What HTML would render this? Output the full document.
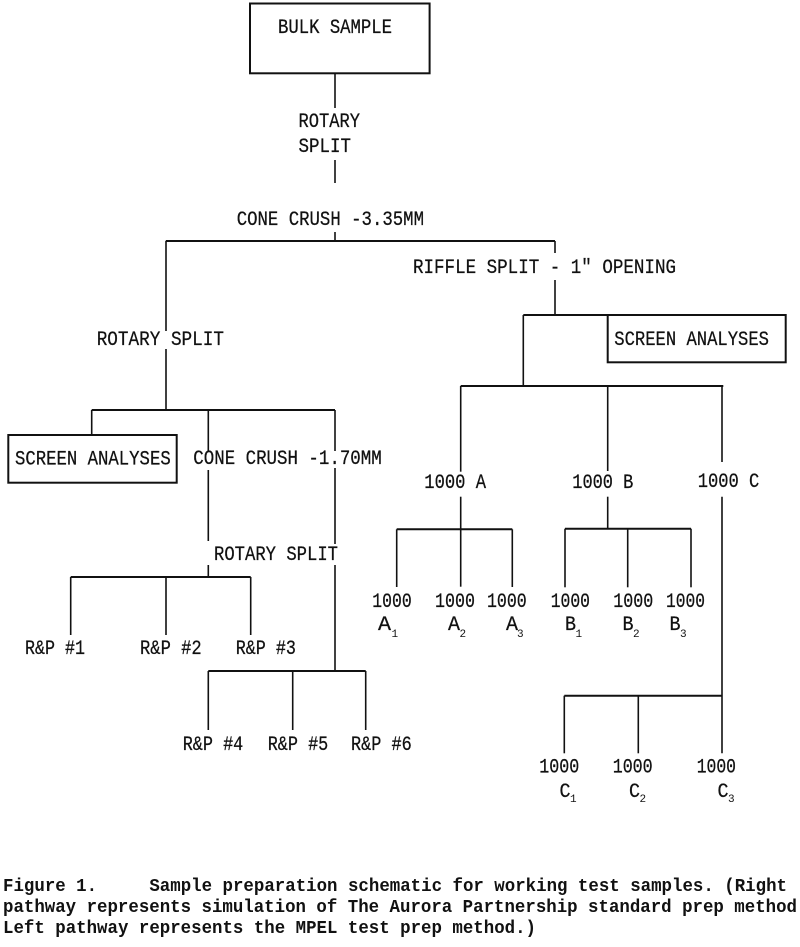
<!DOCTYPE html>
<html><head><meta charset="utf-8"><style>
html,body{margin:0;padding:0;background:#fff;}
svg{display:block;}
text{font-family:"Liberation Mono","DejaVu Sans Mono",monospace;fill:#111;}
.t{font-size:20px;stroke:#111;stroke-width:0.25;}
.s{font-size:11px;}
.c{font-size:18px;font-weight:bold;}
line,rect{stroke:#111;stroke-width:1.6;fill:none;}
.h{stroke-width:2;}
</style></head><body>
<svg width="800" height="947" viewBox="0 0 800 947" xmlns="http://www.w3.org/2000/svg">
<!-- boxes -->
<rect x="250" y="3.5" width="179.6" height="69.8" class="h"/>
<rect x="607.7" y="315" width="178" height="47.3" class="h"/>
<rect x="8.3" y="435" width="168.4" height="47.7" class="h"/>

<!-- top trunk -->
<line x1="335" y1="73" x2="335" y2="108"/>
<line x1="335" y1="160" x2="335" y2="183"/>
<line x1="335" y1="232" x2="335" y2="241"/>
<line class="h" x1="165.8" y1="241" x2="555" y2="241"/>

<!-- right branch -->
<line x1="555" y1="241" x2="555" y2="253"/>
<line x1="555" y1="280" x2="555" y2="315"/>
<line class="h" x1="523.3" y1="315" x2="785.7" y2="315"/>
<line x1="523.3" y1="315" x2="523.3" y2="386"/>
<line class="h" x1="460.7" y1="386" x2="723.3" y2="386"/>
<line x1="460.7" y1="386" x2="460.7" y2="471.7"/>
<line x1="607.7" y1="386" x2="607.7" y2="471"/>
<line x1="722" y1="386" x2="722" y2="462"/>
<line x1="460.7" y1="496.7" x2="460.7" y2="586.7"/>
<line x1="607.7" y1="496.7" x2="607.7" y2="529"/>
<line x1="722" y1="496.7" x2="722" y2="753.3"/>
<line class="h" x1="396.7" y1="529.3" x2="512.3" y2="529.3"/>
<line x1="396.7" y1="529.3" x2="396.7" y2="587"/>
<line x1="512.3" y1="529.3" x2="512.3" y2="587"/>
<line class="h" x1="565" y1="528.7" x2="691" y2="528.7"/>
<line x1="565" y1="528.7" x2="565" y2="587.3"/>
<line x1="627.7" y1="528.7" x2="627.7" y2="587.3"/>
<line x1="691" y1="528.7" x2="691" y2="587.3"/>
<line class="h" x1="564.3" y1="695.7" x2="722" y2="695.7"/>
<line x1="564.3" y1="695.7" x2="564.3" y2="753.3"/>
<line x1="638.3" y1="695.7" x2="638.3" y2="753.3"/>

<!-- left branch -->
<line x1="166" y1="241" x2="166" y2="331"/>
<line x1="166" y1="349" x2="166" y2="410"/>
<line class="h" x1="91.7" y1="410" x2="335" y2="410"/>
<line x1="91.7" y1="410" x2="91.7" y2="435"/>
<line x1="208.3" y1="410" x2="208.3" y2="452"/>
<line x1="208.3" y1="470" x2="208.3" y2="541"/>
<line x1="208.3" y1="565" x2="208.3" y2="577"/>
<line x1="335" y1="410" x2="335" y2="451"/>
<line x1="335" y1="468" x2="335" y2="544"/>
<line x1="335" y1="565" x2="335" y2="671"/>
<line class="h" x1="70.7" y1="577" x2="250.7" y2="577"/>
<line x1="70.7" y1="577" x2="70.7" y2="635"/>
<line x1="166" y1="577" x2="166" y2="635"/>
<line x1="250.7" y1="577" x2="250.7" y2="635"/>
<line class="h" x1="208.3" y1="671" x2="365.7" y2="671"/>
<line x1="208.3" y1="671" x2="208.3" y2="730"/>
<line x1="292.7" y1="671" x2="292.7" y2="730"/>
<line x1="365.7" y1="671" x2="365.7" y2="730"/>

<!-- labels -->
<text class="t" x="278" y="33" textLength="114" lengthAdjust="spacingAndGlyphs">BULK SAMPLE</text>
<text class="t" x="298.5" y="127" textLength="61.5" lengthAdjust="spacingAndGlyphs">ROTARY</text>
<text class="t" x="298.5" y="152" textLength="52.5" lengthAdjust="spacingAndGlyphs">SPLIT</text>
<text class="t" x="236.7" y="225" textLength="187.3" lengthAdjust="spacingAndGlyphs">CONE CRUSH -3.35MM</text>
<text class="t" x="413" y="273" textLength="263" lengthAdjust="spacingAndGlyphs">RIFFLE SPLIT - 1" OPENING</text>
<text class="t" x="96.7" y="345" textLength="127.3" lengthAdjust="spacingAndGlyphs">ROTARY SPLIT</text>
<text class="t" x="614.3" y="345" textLength="154.7" lengthAdjust="spacingAndGlyphs">SCREEN ANALYSES</text>
<text class="t" x="15" y="464.5" textLength="155.7" lengthAdjust="spacingAndGlyphs">SCREEN ANALYSES</text>
<text class="t" x="193.3" y="464" textLength="188.4" lengthAdjust="spacingAndGlyphs">CONE CRUSH -1.70MM</text>
<text class="t" x="214" y="560" textLength="124" lengthAdjust="spacingAndGlyphs">ROTARY SPLIT</text>

<text class="t" x="25" y="654" textLength="60" lengthAdjust="spacingAndGlyphs">R&amp;P #1</text>
<text class="t" x="140" y="654" textLength="61.7" lengthAdjust="spacingAndGlyphs">R&amp;P #2</text>
<text class="t" x="235.7" y="654" textLength="60.3" lengthAdjust="spacingAndGlyphs">R&amp;P #3</text>
<text class="t" x="182.7" y="750" textLength="60.6" lengthAdjust="spacingAndGlyphs">R&amp;P #4</text>
<text class="t" x="267.7" y="750" textLength="60.6" lengthAdjust="spacingAndGlyphs">R&amp;P #5</text>
<text class="t" x="351" y="750" textLength="60.7" lengthAdjust="spacingAndGlyphs">R&amp;P #6</text>

<text class="t" x="424.3" y="488" textLength="61.7" lengthAdjust="spacingAndGlyphs">1000 A</text>
<text class="t" x="572.3" y="488" textLength="61" lengthAdjust="spacingAndGlyphs">1000 B</text>
<text class="t" x="697.7" y="487" textLength="61.6" lengthAdjust="spacingAndGlyphs">1000 C</text>

<text class="t" x="372.3" y="607" textLength="39.4" lengthAdjust="spacingAndGlyphs">1000</text>
<text class="t" x="435" y="607" textLength="40" lengthAdjust="spacingAndGlyphs">1000</text>
<text class="t" x="487" y="607" textLength="39.7" lengthAdjust="spacingAndGlyphs">1000</text>
<text class="t" x="550.7" y="607" textLength="39.3" lengthAdjust="spacingAndGlyphs">1000</text>
<text class="t" x="613.3" y="607" textLength="40" lengthAdjust="spacingAndGlyphs">1000</text>
<text class="t" x="666" y="607" textLength="39" lengthAdjust="spacingAndGlyphs">1000</text>

<text class="t" x="378" y="630" textLength="13" lengthAdjust="spacingAndGlyphs">A</text><text class="s" x="391.5" y="637">1</text>
<text class="t" x="448" y="630" textLength="12" lengthAdjust="spacingAndGlyphs">A</text><text class="s" x="459.5" y="637">2</text>
<text class="t" x="506" y="630" textLength="12" lengthAdjust="spacingAndGlyphs">A</text><text class="s" x="517" y="637">3</text>
<text class="t" x="565" y="630" textLength="11" lengthAdjust="spacingAndGlyphs">B</text><text class="s" x="575.5" y="637">1</text>
<text class="t" x="622.5" y="630" textLength="11" lengthAdjust="spacingAndGlyphs">B</text><text class="s" x="633" y="637">2</text>
<text class="t" x="669.5" y="630" textLength="11" lengthAdjust="spacingAndGlyphs">B</text><text class="s" x="680" y="637">3</text>

<text class="t" x="539.3" y="772.7" textLength="40" lengthAdjust="spacingAndGlyphs">1000</text>
<text class="t" x="612.7" y="772.7" textLength="40" lengthAdjust="spacingAndGlyphs">1000</text>
<text class="t" x="696.7" y="772.7" textLength="39.3" lengthAdjust="spacingAndGlyphs">1000</text>
<text class="t" x="559.5" y="797" textLength="11" lengthAdjust="spacingAndGlyphs">C</text><text class="s" x="570" y="802">1</text>
<text class="t" x="629" y="797" textLength="11" lengthAdjust="spacingAndGlyphs">C</text><text class="s" x="639.5" y="802">2</text>
<text class="t" x="717.5" y="797" textLength="11" lengthAdjust="spacingAndGlyphs">C</text><text class="s" x="728" y="802">3</text>

<!-- caption -->
<text class="c" x="3" y="891" textLength="784" lengthAdjust="spacingAndGlyphs" xml:space="preserve">Figure 1.     Sample preparation schematic for working test samples. (Right</text>
<text class="c" x="3" y="912" textLength="794" lengthAdjust="spacingAndGlyphs">pathway represents simulation of The Aurora Partnership standard prep method</text>
<text class="c" x="3" y="933" textLength="533" lengthAdjust="spacingAndGlyphs">Left pathway represents the MPEL test prep method.)</text>
</svg>
</body></html>
